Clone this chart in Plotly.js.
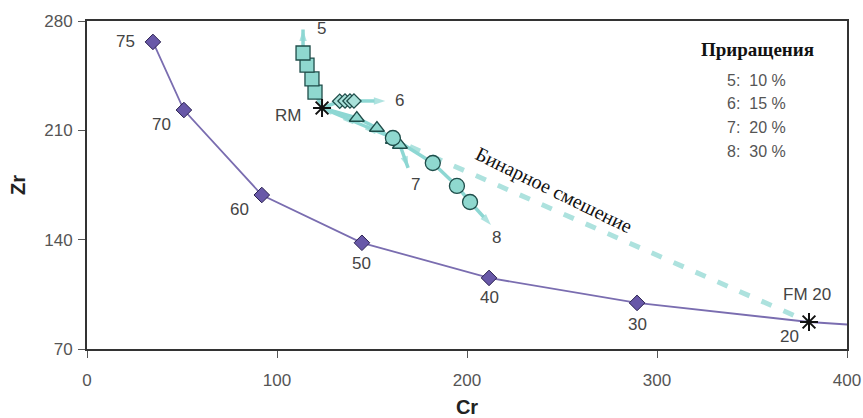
<!DOCTYPE html>
<html>
<head>
<meta charset="utf-8">
<script src="https://cdn.plot.ly/plotly-3.0.1.min.js"></script>
<style>html,body{margin:0;padding:0;background:#fff;}#chart{width:863px;height:418px;}</style>
</head>
<body>
<div id="chart"></div>
<script>
// Mixing curve (purple) with labels
const curveLabels = ['75', '70', '60', '50', '40', '30', '20'];
const curveCr = [34.7, 51, 92, 144.7, 211.6, 289.5, 380];
const curveZr = [266.6, 223, 168.6, 138, 115.5, 99.5, 87.3];
const curveTailCr = [440];
const curveTailZr = [82.5];

// End members
const rmCr = [123.7], rmZr = [224.3];
const fmCr = [380], fmZr = [87.3];

// Increment series (from RM outward)
const sq5Cr = [120, 118.4, 115.8, 113.7];
const sq5Zr = [234.5, 242.9, 251.8, 259.5];
const di6Cr = [133, 135.8, 138.4, 140.5];
const di6Zr = [228.6, 228.8, 228.8, 228.8];
const tr7Cr = [142, 152.6, 161, 164.7];
const tr7Zr = [217.9, 211.5, 203.8, 200.6];
const ci8Cr = [161, 182, 194.7, 201.6];
const ci8Zr = [205.1, 189.1, 174.4, 164.1];

// Arrow tips
const tip5 = [113.7, 274.5];
const tip6 = [157, 228.8];
const tip7 = [169, 186];
const tip8 = [212.6, 149.4];

const legendTitle = 'Приращения';
const legendLines = ['5:\u00a0 10 %', '6:\u00a0 15 %', '7:\u00a0 20 %', '8:\u00a0 30 %'];

const teal = '#8dd7d3';
const tealFill = '#8fd8cf';
const tealEdge = '#1f4d4a';
const purple = '#7a6db0';
const purpleFill = '#6858a8';

function arrowTrace(xs, ys, tip) {
  const x = rmCr.concat(xs, [tip[0]]);
  const y = rmZr.concat(ys, [tip[1]]);
  const n = x.length;
  const sizes = x.map((_, i) => i === n - 1 ? 12 : 0);
  return {
    x: x, y: y, mode: 'lines+markers', type: 'scatter', showlegend: false, hoverinfo: 'skip',
    line: {color: teal, width: 3.5},
    marker: {symbol: 'arrow', angleref: 'previous', size: sizes, color: teal, line: {width: 0}}
  };
}

const traces = [
  // binary mixing dashed line
  {x: rmCr.concat(fmCr), y: rmZr.concat(fmZr), mode: 'lines', type: 'scatter', showlegend: false,
   line: {color: '#ade2de', width: 5, dash: '11px,13px'}},
  arrowTrace(sq5Cr, sq5Zr, tip5),
  arrowTrace(di6Cr, di6Zr, tip6),
  arrowTrace(tr7Cr, tr7Zr, tip7),
  arrowTrace(ci8Cr, ci8Zr, tip8),
  // purple curve line
  {x: curveCr.concat(curveTailCr), y: curveZr.concat(curveTailZr), mode: 'lines', type: 'scatter',
   showlegend: false, line: {color: purple, width: 1.8}},
  // purple diamonds
  {x: curveCr.slice(0, 6), y: curveZr.slice(0, 6), mode: 'markers', type: 'scatter', showlegend: false,
   marker: {symbol: 'diamond', size: 12, color: purpleFill, line: {color: '#2a2150', width: 1}}},
  // squares
  {x: sq5Cr, y: sq5Zr, mode: 'markers', type: 'scatter', showlegend: false,
   marker: {symbol: 'square', size: 14, color: tealFill, line: {color: tealEdge, width: 1.3}}},
  // diamonds
  {x: di6Cr, y: di6Zr, mode: 'markers', type: 'scatter', showlegend: false,
   marker: {symbol: 'diamond', size: 11, color: '#a9e1da', line: {color: tealEdge, width: 1.3}}},
  // triangles
  {x: tr7Cr, y: tr7Zr, mode: 'markers', type: 'scatter', showlegend: false,
   marker: {symbol: 'triangle-up', size: 13, color: tealFill, line: {color: tealEdge, width: 1.3}}},
  // circles
  {x: ci8Cr, y: ci8Zr, mode: 'markers', type: 'scatter', showlegend: false,
   marker: {symbol: 'circle', size: 15, color: tealFill, line: {color: tealEdge, width: 1.3}}},
  // end members
  {x: rmCr.concat(fmCr), y: rmZr.concat(fmZr), mode: 'markers', type: 'scatter', showlegend: false,
   marker: {symbol: 'asterisk-open', size: 15, color: '#111', line: {color: '#111', width: 2}}}
];

const sans = 'Liberation Sans, Arial, sans-serif';
const serif = 'Liberation Serif, Times New Roman, serif';
const numFont = {family: sans, size: 17, color: '#444'};
const labelShifts = [[-27, 0], [-22, -14], [-22, -14], [0, -21], [0, -20], [0, -22], [-20, -15]];
const annotations = curveLabels.map((t, i) => ({
  x: curveCr[i], y: curveZr[i], xref: 'x', yref: 'y', text: t, showarrow: false,
  xshift: labelShifts[i][0], yshift: labelShifts[i][1], font: numFont
}));
annotations.push(
  {x: rmCr[0], y: rmZr[0], xref: 'x', yref: 'y', text: 'RM', showarrow: false, xshift: -34, yshift: -7, font: numFont},
  {x: fmCr[0], y: fmZr[0], xref: 'x', yref: 'y', text: 'FM 20', showarrow: false, xshift: -2, yshift: 27, font: numFont},
  {x: tip5[0], y: tip5[1], xref: 'x', yref: 'y', text: '5', showarrow: false, xshift: 18, yshift: 1, font: numFont},
  {x: tip6[0], y: tip6[1], xref: 'x', yref: 'y', text: '6', showarrow: false, xshift: 14, yshift: 0, font: numFont},
  {x: tip7[0], y: tip7[1], xref: 'x', yref: 'y', text: '7', showarrow: false, xshift: 7, yshift: -17, font: numFont},
  {x: tip8[0], y: tip8[1], xref: 'x', yref: 'y', text: '8', showarrow: false, xshift: 6, yshift: -13, font: numFont},
  {x: 246, y: 171.5, xref: 'x', yref: 'y', text: 'Бинарное смешение', showarrow: false, textangle: 26,
   font: {family: serif, size: 20, color: '#111'}},
  {x: 0.8816, y: 0.912, xref: 'paper', yref: 'paper', text: '<b>' + legendTitle + '</b>', showarrow: false,
   xanchor: 'center', yanchor: 'middle', font: {family: serif, size: 19, color: '#111'}}
);
const legendY = [0.82, 0.747, 0.674, 0.601];
legendLines.forEach((t, i) => annotations.push({
  x: 0.84, y: legendY[i], xref: 'paper', yref: 'paper', text: t, showarrow: false, xanchor: 'left', yanchor: 'middle',
  font: {family: sans, size: 16, color: '#555'}
}));

const axisCommon = {
  showgrid: false, zeroline: false, showline: true, linecolor: '#333', linewidth: 2, mirror: true,
  ticks: 'outside', ticklen: 7, tickcolor: '#555', tickwidth: 1,
  tickfont: {family: sans, size: 17, color: '#555'}
};

const layout = {
  width: 863, height: 418,
  margin: {l: 87, r: 16, t: 21, b: 69},
  paper_bgcolor: '#fff', plot_bgcolor: '#fff',
  showlegend: false,
  xaxis: Object.assign({}, axisCommon, {
    range: [0, 400], tickvals: [0, 100, 200, 300, 400], ticklabelstandoff: 8,
    title: {text: '<b>Cr</b>', standoff: 11, font: {family: sans, size: 20, color: '#222'}}
  }),
  yaxis: Object.assign({}, axisCommon, {
    range: [70, 280], tickvals: [70, 140, 210, 280], ticklabelstandoff: 2,
    title: {text: '<b>Zr</b>', standoff: 13, font: {family: sans, size: 20, color: '#222'}}
  }),
  annotations: annotations
};

Plotly.newPlot('chart', traces, layout, {staticPlot: true, displayModeBar: false});
</script>
</body>
</html>
